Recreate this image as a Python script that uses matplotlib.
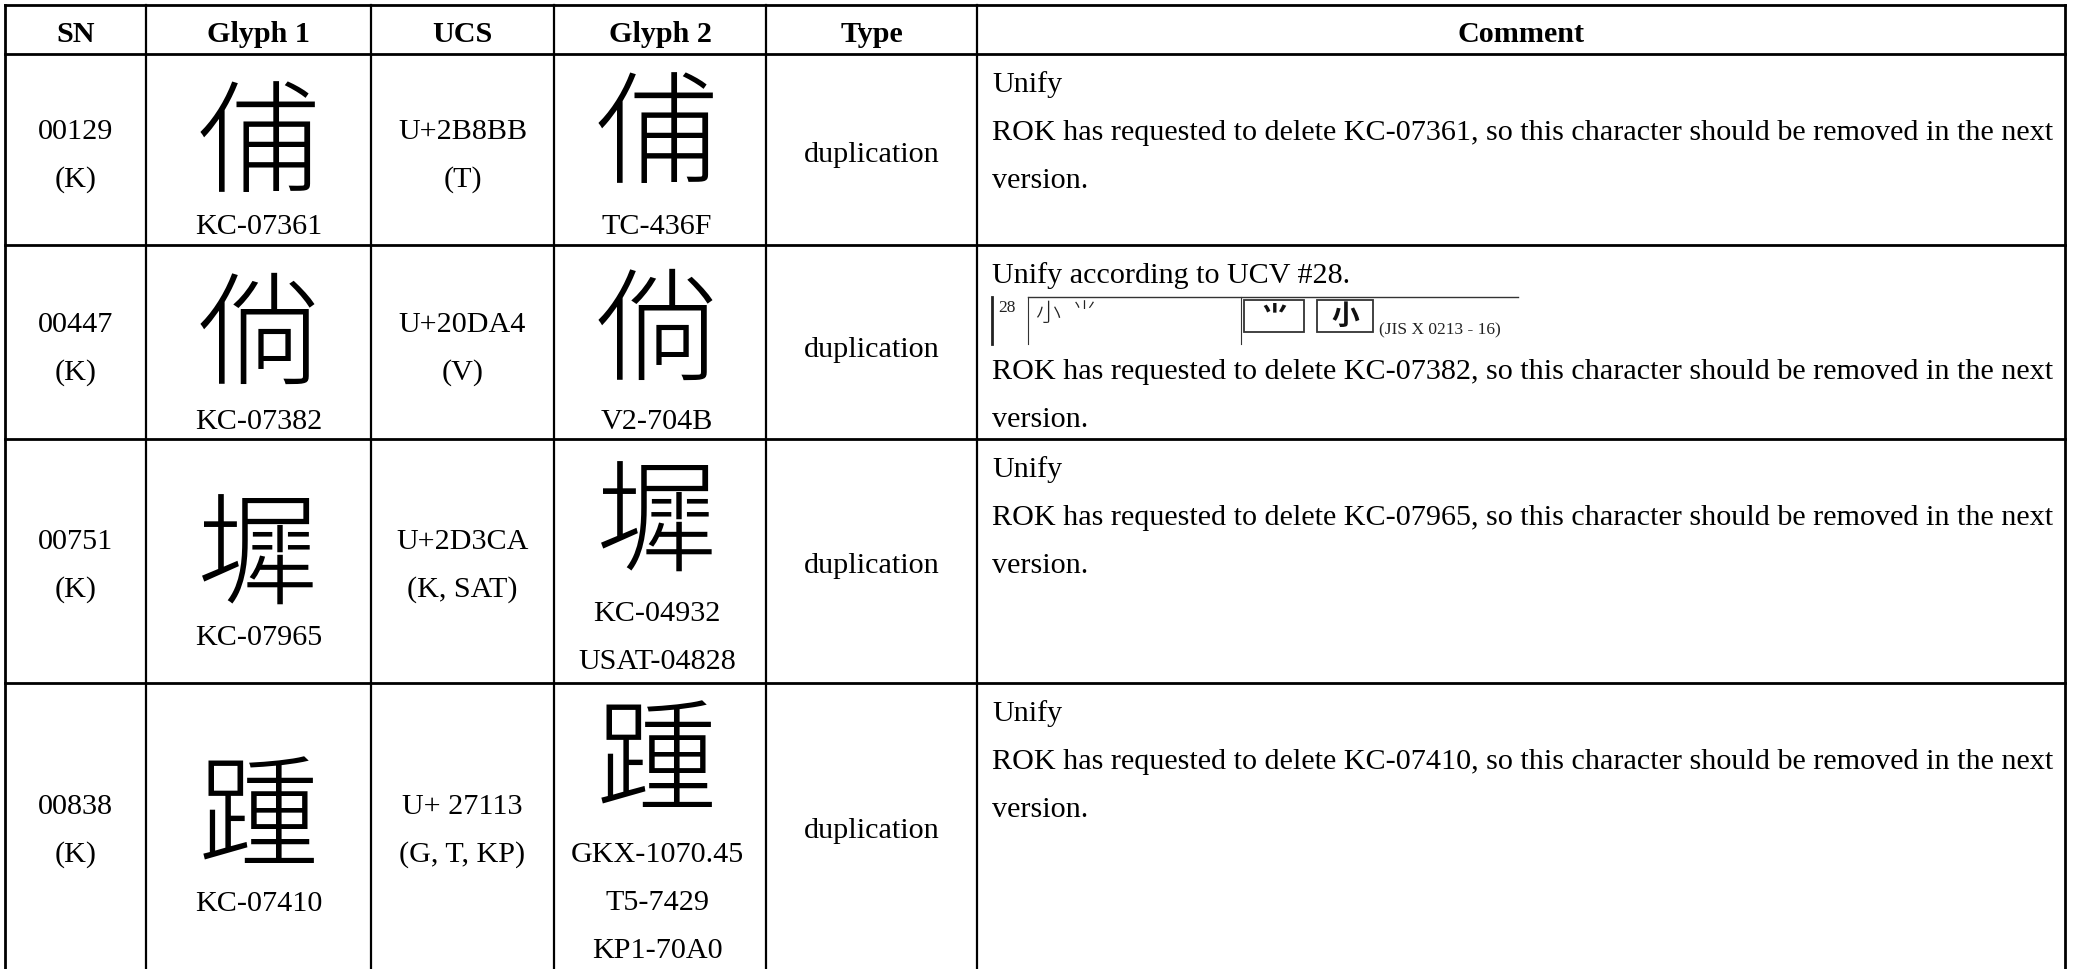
import matplotlib
matplotlib.use("Agg")
import matplotlib.pyplot as plt
from matplotlib import font_manager as fm, ft2font
from matplotlib.patches import Rectangle

# table content
headers = ["SN", "Glyph 1", "UCS", "Glyph 2", "Type", "Comment"]
sn = ["00129", "00447", "00751", "00838"]
sn_source = ["(K)", "(K)", "(K)", "(K)"]
glyph_codepoints = [0x2B8BB, 0x20DA4, 0x2D3CA, 0x27113]
glyph_fallbacks = ["俌", "倘", "墀", "踵"]
glyph1_source = ["KC-07361", "KC-07382", "KC-07965", "KC-07410"]
ucs = ["U+2B8BB", "U+20DA4", "U+2D3CA", "U+ 27113"]
ucs_source = ["(T)", "(V)", "(K, SAT)", "(G, T, KP)"]
glyph2_source = [
    ["TC-436F"],
    ["V2-704B"],
    ["KC-04932", "USAT-04828"],
    ["GKX-1070.45", "T5-7429", "KP1-70A0"],
]
types = ["duplication", "duplication", "duplication", "duplication"]
comments = [
    ["Unify",
     "ROK has requested to delete KC-07361, so this character should be removed in the next",
     "version."],
    ["Unify according to UCV #28.",
     None,
     "ROK has requested to delete KC-07382, so this character should be removed in the next",
     "version."],
    ["Unify",
     "ROK has requested to delete KC-07965, so this character should be removed in the next",
     "version."],
    ["Unify",
     "ROK has requested to delete KC-07410, so this character should be removed in the next",
     "version."],
]
ucv_number = "28"
ucv_shapes = ["小", "⺌"]
ucv_boxed = ["⺌", "小"]
ucv_note = "(JIS X 0213 - 16)"

# layout (pixels)
W, H = 2078, 970
col_edges = [5, 146, 371, 554, 766, 977, 2065]
row_edges = [6, 55, 246, 440, 684, 970]
line_h = 48
cap_half = 10

SERIF = "Liberation Serif"
CJK = ["Noto Sans CJK JP", "Noto Sans CJK TC", "Noto Sans CJK SC", "Noto Sans CJK KR"]
BODY = 21.7


def pick_glyph(cp, fallback):
    """Use the real code point if any CJK font has it, else a look-alike."""
    for fam in CJK:
        try:
            path = fm.findfont(fm.FontProperties(family=fam), fallback_to_default=False)
        except ValueError:
            continue
        if cp in ft2font.FT2Font(path).get_charmap():
            return chr(cp), fam
    return fallback, CJK[0]


fig = plt.figure(figsize=(W / 100, H / 100), dpi=100)
ax = fig.add_axes([0, 0, 1, 1])
ax.set_xlim(0, W)
ax.set_ylim(H, 0)
ax.axis("off")


def put(x, yc, s, ha="center", **kw):
    ax.text(x, yc + cap_half, s, ha=ha, va="baseline", family=SERIF,
            fontsize=BODY, color="black", **kw)


# grid lines
for y in row_edges[:-1]:
    ax.plot([col_edges[0], col_edges[-1]], [y, y], color="black", lw=2.0,
            solid_capstyle="projecting")
for i, x in enumerate(col_edges):
    ax.plot([x, x], [row_edges[0], row_edges[-1]], color="black",
            lw=2.0 if i in (0, len(col_edges) - 1) else 1.6)

centers = [(a + b) / 2 for a, b in zip(col_edges[:-1], col_edges[1:])]

for c, h in zip(centers, headers):
    put(c, 32, h, weight="bold")

# per-row vertical offsets of contents (relative to row top)
sn_y = [74, 76, 99, 120]
g1_y = [94, 95, 122, 139]
g1_src_y = [169, 173, 195, 217]
g2_y = [85, 91, 89, 83]
g2_src_y = [169, 173, 171, 168]
type_y = [97, 101, 123, 144]

for r in range(4):
    top = row_edges[r + 1]
    put(centers[0], top + sn_y[r], sn[r])
    put(centers[0], top + sn_y[r] + line_h, sn_source[r])
    put(centers[2], top + sn_y[r], ucs[r])
    put(centers[2], top + sn_y[r] + line_h, ucs_source[r])

    ch, fam = pick_glyph(glyph_codepoints[r], glyph_fallbacks[r])
    ax.text(centers[1], top + g1_y[r], ch, ha="center", va="center",
            family=[fam, "DejaVu Sans"], fontsize=88, weight="light")
    ax.text(centers[3] - 3, top + g2_y[r], ch, ha="center", va="center",
            family=[fam, "DejaVu Sans"], fontsize=88, weight="light")
    put(centers[1], top + g1_src_y[r], glyph1_source[r])
    for k, s in enumerate(glyph2_source[r]):
        put(centers[3] - 3, top + g2_src_y[r] + k * line_h, s)

    put(centers[4], top + type_y[r], types[r])

    y = top + 27
    for line in comments[r]:
        if line is None:
            y += line_h
            continue
        put(col_edges[5] + 15, y, line, ha="left")
        y += line_h

# small UCV #28 excerpt inside the second comment cell
top = row_edges[2]
x0 = col_edges[5] + 15
y0, y1 = top + 52, top + 99
ax.plot([x0 + 36, x0 + 526], [y0, y0], color="#333333", lw=1.0)
ax.plot([x0, x0], [y0, y1], color="#222222", lw=2.0)
ax.plot([x0 + 36, x0 + 36], [y0, y1], color="#333333", lw=0.8)
ax.plot([x0 + 249, x0 + 249], [y0, y1], color="#333333", lw=0.8)
ax.text(x0 + 6, y0 + 2, ucv_number, ha="left", va="top", family=SERIF,
        fontsize=12.5, color="#222222")
ax.text(x0 + 44, y0 + 16, "  ".join(ucv_shapes), ha="left", va="center",
        family=CJK + ["DejaVu Sans"], fontsize=18, weight="light", color="#222222")
for bx, bw, s in zip([x0 + 252, x0 + 325], [60, 56], ucv_boxed):
    ax.add_patch(Rectangle((bx, y0 + 3), bw, 32, fill=False, ec="#333333", lw=1.3))
    ax.text(bx + bw / 2, y0 + 19, s, ha="center", va="center",
            family=CJK + ["DejaVu Sans"], fontsize=20, weight="bold", color="#111111")
ax.text(x0 + 387, y0 + 32, ucv_note, ha="left", va="center", family=SERIF,
        fontsize=12.5, color="#222222")

fig.savefig("out.png", dpi=100)
